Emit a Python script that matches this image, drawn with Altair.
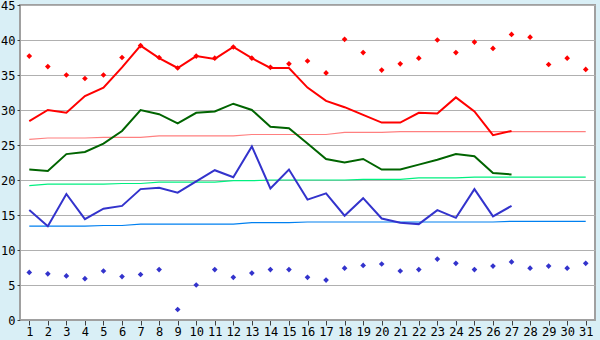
import altair as alt
import pandas as pd

days = list(range(1, 32))
max_rec = [37.7, 36.2, 35.0, 34.5, 35.0, 37.5, 39.2, 37.5, 36.0, 37.7,
           37.4, 39.0, 37.4, 36.1, 36.6, 37.0, 35.3, 40.1, 38.2, 35.7,
           36.6, 37.4, 40.0, 38.2, 39.7, 38.8, 40.8, 40.4, 36.5, 37.4, 35.8]
min_rec = [6.8, 6.6, 6.3, 5.9, 7.0, 6.2, 6.5, 7.2, 1.5, 5.0,
           7.2, 6.1, 6.7, 7.2, 7.2, 6.1, 5.7, 7.4, 7.8, 8.0,
           7.0, 7.2, 8.7, 8.1, 7.2, 7.7, 8.3, 7.4, 7.7, 7.4, 8.1]
tmax = [28.4, 30.0, 29.6, 32.0, 33.2, 36.1, 39.2, 37.4, 36.0, 37.7,
        37.3, 39.0, 37.4, 36.0, 36.0, 33.2, 31.3, 30.4, 29.3, 28.2,
        28.2, 29.6, 29.5, 31.8, 29.8, 26.4, 27.0]
tmean = [21.5, 21.3, 23.7, 24.0, 25.2, 27.0, 30.0, 29.4, 28.1, 29.6,
         29.8, 30.9, 30.0, 27.6, 27.4, 25.2, 23.0, 22.5, 23.0, 21.5,
         21.5, 22.2, 22.9, 23.7, 23.4, 21.0, 20.8]
tmin = [15.7, 13.4, 18.0, 14.4, 15.9, 16.3, 18.7, 18.9, 18.2, 19.8,
        21.4, 20.4, 24.8, 18.8, 21.5, 17.2, 18.1, 14.9, 17.4, 14.5,
        13.9, 13.7, 15.7, 14.6, 18.7, 14.8, 16.3]
norm_max = [25.8, 26.0, 26.0, 26.0, 26.1, 26.1, 26.1, 26.3, 26.3, 26.3,
            26.3, 26.3, 26.5, 26.5, 26.5, 26.5, 26.5, 26.8, 26.8, 26.8,
            26.9, 26.9, 26.9, 26.9, 26.9, 26.9, 26.9, 26.9, 26.9, 26.9, 26.9]
norm_mean = [19.2, 19.4, 19.4, 19.4, 19.4, 19.5, 19.5, 19.7, 19.7, 19.7,
             19.7, 19.9, 19.9, 20.0, 20.0, 20.0, 20.0, 20.0, 20.1, 20.1,
             20.1, 20.3, 20.3, 20.3, 20.4, 20.4, 20.4, 20.4, 20.4, 20.4, 20.4]
norm_min = [13.4, 13.4, 13.4, 13.4, 13.5, 13.5, 13.7, 13.7, 13.7, 13.7,
            13.7, 13.7, 13.9, 13.9, 13.9, 14.0, 14.0, 14.0, 14.0, 14.0,
            14.0, 14.0, 14.0, 14.0, 14.0, 14.0, 14.1, 14.1, 14.1, 14.1, 14.1]

rows = []
def add(name, vals):
    for d, v in zip(days, vals):
        rows.append({"day": d, "series": name, "value": v})

add("max_rec", max_rec)
add("min_rec", min_rec)
add("tmax", tmax)
add("tmean", tmean)
add("tmin", tmin)
add("norm_max", norm_max)
add("norm_mean", norm_mean)
add("norm_min", norm_min)
df = pd.DataFrame(rows)

x = alt.X("day:Q", scale=alt.Scale(domain=[0.5, 31.5], nice=False, zero=False),
          axis=alt.Axis(values=days, grid=False, title=None, tickSize=5,
                        labelPadding=1, domainColor="#A0A0A0", tickColor="#404040",
                        labelFlush=False, labelOverlap=False))
y = alt.Y("value:Q", scale=alt.Scale(domain=[0, 45], nice=False),
          axis=alt.Axis(values=list(range(0, 50, 5)), grid=True, gridColor="#B0B0B0",
                        title=None, tickSize=3, labelPadding=2, domainColor="#A0A0A0",
                        tickColor="#404040", labelFlush=False))

base = alt.Chart(df).encode(x=x, y=y)

def line(name, color, width):
    return base.transform_filter(alt.datum.series == name).mark_line(
        color=color, strokeWidth=width, interpolate="linear")

def dots(name, color):
    return base.transform_filter(alt.datum.series == name).mark_point(
        shape="diamond", filled=True, color=color, size=32, opacity=1)

chart = alt.layer(
    line("norm_max", "#FF8080", 1.2),
    line("norm_mean", "#00F080", 1.2),
    line("norm_min", "#0080F0", 1.2),
    line("tmax", "#FF0000", 2),
    line("tmean", "#006400", 2),
    line("tmin", "#3333CC", 2),
    dots("max_rec", "#FF0000"),
    dots("min_rec", "#3333CC"),
).properties(
    width=575, height=315,
    autosize=alt.AutoSizeParams(type="none"),
    padding={"left": 20, "top": 5, "right": 5, "bottom": 20},
    background="#D9EFF6",
).configure_view(
    fill="white", stroke="#A0A0A0", strokeWidth=2
).configure_axis(
    labelFont="DejaVu Sans Mono", labelFontSize=12, labelColor="#000000"
)

chart.save("out.html", embed_options={"renderer": "svg", "actions": False})
